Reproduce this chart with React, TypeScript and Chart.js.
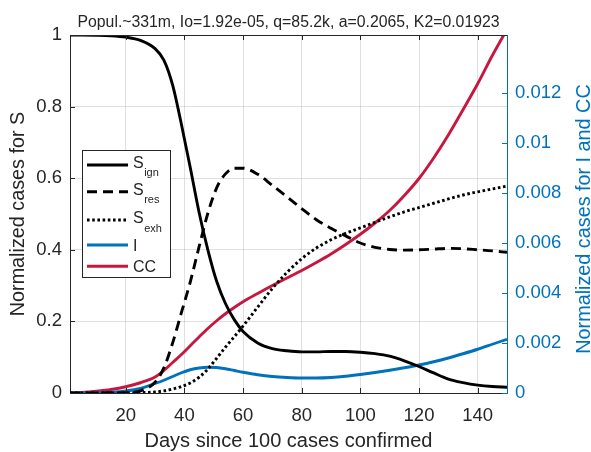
import React, { useEffect, useRef } from 'react';
import { Chart, registerables } from 'chart.js';
Chart.register(...registerables);

const days = [1, 5, 10, 15, 20, 25, 30, 33, 36, 39, 42, 45, 48, 51, 54, 57, 60, 65, 70, 75, 80, 85, 90, 95, 100, 105, 110, 115, 120, 125, 130, 135, 140, 145, 150];
const sIgn = [1.0, 1.0, 0.9995, 0.998, 0.994, 0.985, 0.962, 0.93, 0.86, 0.75, 0.63, 0.505, 0.4, 0.312, 0.25, 0.205, 0.172, 0.14, 0.124, 0.118, 0.115, 0.115, 0.116, 0.116, 0.114, 0.11, 0.103, 0.09, 0.074, 0.056, 0.039, 0.029, 0.022, 0.018, 0.016];
const sRes = [0, 0, 0.0002, 0.0005, 0.001, 0.006, 0.03, 0.07, 0.14, 0.225, 0.31, 0.408, 0.502, 0.573, 0.612, 0.628, 0.628, 0.611, 0.58, 0.548, 0.515, 0.484, 0.46, 0.439, 0.419, 0.407, 0.401, 0.399, 0.4, 0.402, 0.404, 0.403, 0.4, 0.397, 0.393];
const sExh = [0, 0, 0, 0.0002, 0.0005, 0.001, 0.003, 0.006, 0.011, 0.018, 0.028, 0.044, 0.067, 0.097, 0.128, 0.157, 0.187, 0.24, 0.292, 0.337, 0.375, 0.405, 0.428, 0.446, 0.461, 0.477, 0.492, 0.506, 0.518, 0.53, 0.542, 0.553, 0.562, 0.57, 0.578];
const infected = [0, 0.000005, 0.00001, 0.00003, 0.00008, 0.00018, 0.00038, 0.00051, 0.00066, 0.00081, 0.00093, 0.001, 0.00103, 0.00102, 0.00097, 0.0009, 0.00083, 0.00073, 0.00066, 0.00062, 0.0006, 0.0006, 0.00062, 0.00067, 0.00074, 0.00082, 0.00091, 0.00101, 0.00112, 0.00125, 0.0014, 0.00157, 0.00175, 0.00195, 0.00215];
const cumulative = [0, 0.00002, 0.00007, 0.00014, 0.00025, 0.00041, 0.00064, 0.0009, 0.00122, 0.00154, 0.00189, 0.00224, 0.00258, 0.00289, 0.00317, 0.00342, 0.00365, 0.00398, 0.0043, 0.0046, 0.0049, 0.00522, 0.00556, 0.00594, 0.00635, 0.0068, 0.0073, 0.0079, 0.00858, 0.0094, 0.01032, 0.01133, 0.01237, 0.0135, 0.01455];

const xTicks = [20, 40, 60, 80, 100, 120, 140];
const leftTicks = [0, 0.2, 0.4, 0.6, 0.8, 1];
const leftTickLabels = ['0', '0.2', '0.4', '0.6', '0.8', '1'];
const rightTicks = [0, 0.002, 0.004, 0.006, 0.008, 0.01, 0.012];
const rightTickLabels = ['0', '0.002', '0.004', '0.006', '0.008', '0.01', '0.012'];
const rightMax = 0.01432;

const titleText = 'Popul.~331m, Io=1.92e-05, q=85.2k, a=0.2065, K2=0.01923';
const xTitle = 'Days since 100 cases confirmed';
const leftTitle = 'Normalized cases for S';
const rightTitle = 'Normalized cases for I and CC';
const legendMain = ['S', 'S', 'S', 'I', 'CC'];
const legendSub = ['ign', 'res', 'exh', '', ''];

const FONT = "'Liberation Sans', Arial, Helvetica, sans-serif";
const TXT = '#262626';
const BLUE = '#0072BD';
const RED = '#C8173E';
const GRID = 'rgba(38,38,38,0.14)';

const pts = (vals: number[]) => days.map((d, i) => ({ x: d, y: vals[i] }));

const decorPlugin = {
  id: 'decor',
  afterDraw(chart: any) {
    const ctx = chart.ctx;
    const ca = chart.chartArea;
    const xs = chart.scales.x;
    const yl = chart.scales.y;
    const yr = chart.scales.y1;
    ctx.save();
    // top border
    ctx.strokeStyle = TXT;
    ctx.lineWidth = 1;
    ctx.beginPath();
    ctx.moveTo(ca.left, ca.top + 0.5);
    ctx.lineTo(ca.right, ca.top + 0.5);
    ctx.stroke();
    // inward ticks
    const tl = 5;
    ctx.beginPath();
    xTicks.forEach((v) => {
      const px = Math.round(xs.getPixelForValue(v)) + 0.5;
      ctx.moveTo(px, ca.bottom);
      ctx.lineTo(px, ca.bottom - tl);
      ctx.moveTo(px, ca.top);
      ctx.lineTo(px, ca.top + tl);
    });
    leftTicks.forEach((v) => {
      const py = Math.round(yl.getPixelForValue(v)) + 0.5;
      ctx.moveTo(ca.left, py);
      ctx.lineTo(ca.left + tl, py);
    });
    ctx.stroke();
    ctx.strokeStyle = BLUE;
    ctx.beginPath();
    rightTicks.forEach((v) => {
      const py = Math.round(yr.getPixelForValue(v)) + 0.5;
      ctx.moveTo(ca.right, py);
      ctx.lineTo(ca.right - tl, py);
    });
    ctx.stroke();
    // title
    ctx.fillStyle = TXT;
    ctx.font = `15.8px ${FONT}`;
    ctx.textAlign = 'center';
    ctx.textBaseline = 'alphabetic';
    ctx.fillText(titleText, (ca.left + ca.right) / 2, 27);
    // right axis title (reads bottom to top)
    ctx.save();
    ctx.translate(590, (ca.top + ca.bottom) / 2 + 5);
    ctx.rotate(-Math.PI / 2);
    ctx.fillStyle = BLUE;
    ctx.font = `19.8px ${FONT}`;
    ctx.textAlign = 'center';
    ctx.textBaseline = 'alphabetic';
    ctx.fillText(rightTitle, 0, 0);
    ctx.restore();
    // legend
    const bx = ca.left + 12;
    const by = ca.top + 115;
    const bw = 88;
    const bh = 127;
    ctx.fillStyle = '#ffffff';
    ctx.fillRect(bx, by, bw, bh);
    ctx.strokeStyle = TXT;
    ctx.lineWidth = 1;
    ctx.strokeRect(bx + 0.5, by + 0.5, bw, bh);
    const lineYs = [15, 41.7, 70, 95, 116.3];
    const baseYs = [17.5, 44.5, 73, 100.5, 121.7];
    chart.data.datasets.forEach((ds: any, i: number) => {
      ctx.save();
      ctx.strokeStyle = ds.borderColor;
      ctx.lineWidth = ds.borderWidth;
      ctx.setLineDash(ds.borderDash || []);
      ctx.beginPath();
      ctx.moveTo(bx + 5, by + lineYs[i]);
      ctx.lineTo(bx + 46, by + lineYs[i]);
      ctx.stroke();
      ctx.restore();
      ctx.fillStyle = TXT;
      ctx.textAlign = 'left';
      ctx.textBaseline = 'alphabetic';
      ctx.font = `16px ${FONT}`;
      const tx = bx + 51;
      ctx.fillText(legendMain[i], tx, by + baseYs[i]);
      if (legendSub[i]) {
        const w = ctx.measureText(legendMain[i]).width;
        ctx.font = `11px ${FONT}`;
        ctx.fillText(legendSub[i], tx + w + 0.5, by + baseYs[i] + 8.5);
      }
    });
    ctx.restore();
  },
};

export default function App() {
  const ref = useRef<HTMLCanvasElement>(null);
  useEffect(() => {
    if (!ref.current) return;
    const common = { fill: false, pointRadius: 0, borderWidth: 2.9, cubicInterpolationMode: 'monotone' as const };
    const chart = new Chart(ref.current, {
      type: 'line',
      data: {
        datasets: [
          { ...common, label: 'S_ign', data: pts(sIgn), borderColor: '#000000', yAxisID: 'y' },
          { ...common, label: 'S_res', data: pts(sRes), borderColor: '#000000', borderDash: [10, 6], yAxisID: 'y' },
          { ...common, label: 'S_exh', data: pts(sExh), borderColor: '#000000', borderDash: [2.6, 2.6], yAxisID: 'y' },
          { ...common, label: 'I', data: pts(infected), borderColor: BLUE, yAxisID: 'y1' },
          { ...common, label: 'CC', data: pts(cumulative), borderColor: RED, yAxisID: 'y1' },
        ],
      },
      options: {
        animation: false,
        responsive: false,
        devicePixelRatio: 1,
        layout: { padding: { top: 35, left: 0, right: 0, bottom: 0 } },
        plugins: { legend: { display: false }, title: { display: false }, tooltip: { enabled: false } },
        scales: {
          x: {
            type: 'linear',
            min: 1,
            max: 150,
            afterBuildTicks: (s: any) => { s.ticks = xTicks.map((v) => ({ value: v })); },
            afterFit: (s: any) => { s.height = 59; },
            ticks: { color: TXT, font: { family: FONT, size: 18.5 }, padding: 12, maxRotation: 0 },
            grid: { color: GRID, drawTicks: false },
            border: { color: TXT, width: 1 },
            title: { display: true, text: xTitle, color: TXT, font: { family: FONT, size: 20 }, padding: { top: 0, bottom: -1.5 } },
          },
          y: {
            position: 'left',
            min: 0,
            max: 1,
            afterBuildTicks: (s: any) => { s.ticks = leftTicks.map((v) => ({ value: v })); },
            afterFit: (s: any) => { s.width = 70; },
            ticks: { color: TXT, font: { family: FONT, size: 18.5 }, padding: 8, callback: (_v: any, i: number) => leftTickLabels[i] },
            grid: { color: GRID, drawTicks: false },
            border: { color: TXT, width: 1 },
            title: { display: true, text: leftTitle, color: TXT, font: { family: FONT, size: 19.8 }, padding: { top: 6.5, bottom: 0 } },
          },
          y1: {
            position: 'right',
            min: 0,
            max: rightMax,
            afterBuildTicks: (s: any) => { s.ticks = rightTicks.map((v) => ({ value: v })); },
            afterFit: (s: any) => { s.width = 84; },
            ticks: { color: BLUE, font: { family: FONT, size: 18.5 }, padding: 8, callback: (_v: any, i: number) => rightTickLabels[i] },
            grid: { display: false, drawTicks: false },
            border: { color: BLUE, width: 1 },
            title: { display: false, text: rightTitle },
          },
        },
      },
      plugins: [decorPlugin],
    });
    return () => chart.destroy();
  }, []);
  return (
    <div style={{ position: 'absolute', left: 0, top: 0, width: 591, height: 452, background: '#ffffff' }}>
      <canvas ref={ref} width={591} height={452} style={{ display: 'block' }} />
    </div>
  );
}
